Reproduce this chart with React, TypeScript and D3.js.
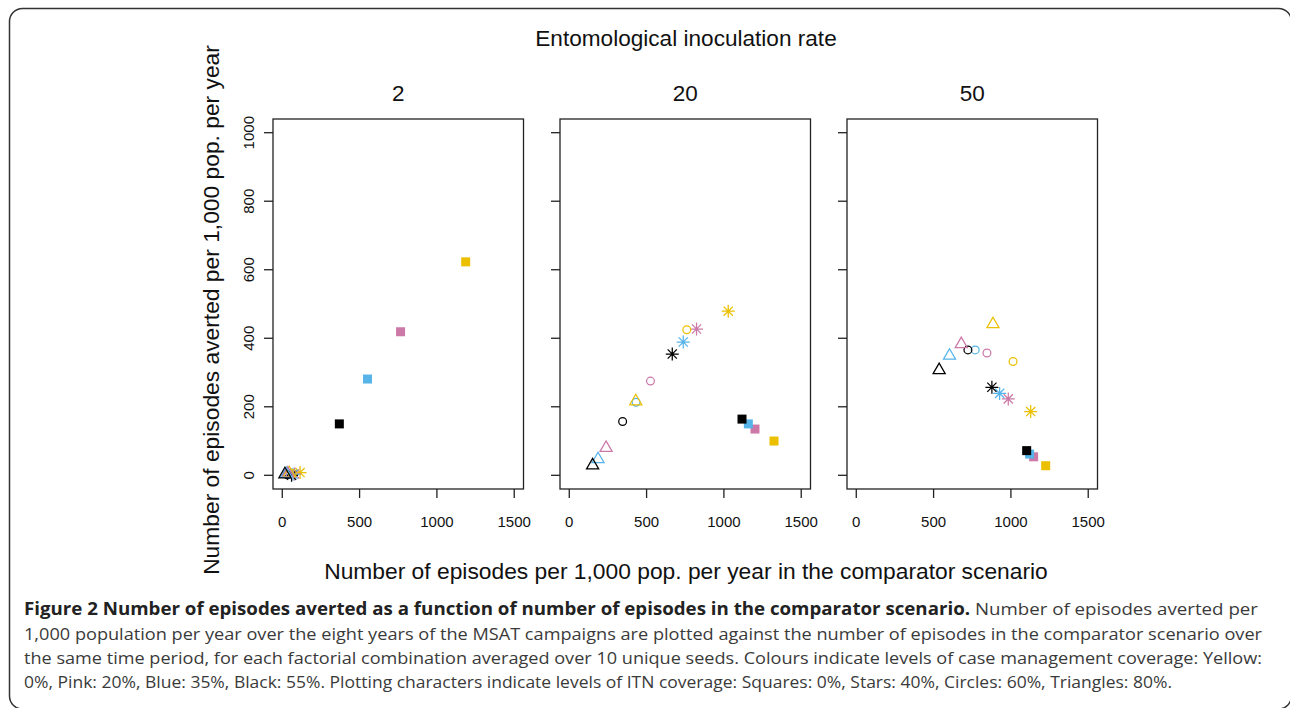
import React from "react";
import * as d3 from "d3";

// ---- data ----
const panelTitles = ["2", "20", "50"];
const colorNames = ["Yellow", "Pink", "Blue", "Black"];
const colorValues = ["#EBC000", "#CC79A7", "#56B4E9", "#000000"];
const shapeNames = ["square", "star", "circle", "triangle"];
const xTicks = [0, 500, 1000, 1500];
const yTicks = [0, 200, 400, 600, 800, 1000];

// order: for each shape (square, star, circle, triangle), colours yellow, pink, blue, black
const eir2X = [1186, 765, 551, 369, 115, 80, 70, 60, 65, 50, 40, 30, 45, 35, 25, 17];
const eir2Y = [623, 419, 281, 150, 8, 4, 3, 0, 5, 4, 3, 2, 6, 5, 4, 3];
const eir20X = [1324, 1201, 1158, 1117, 1028, 823, 737, 666, 760, 525, 432, 345, 430, 238, 186, 151];
const eir20Y = [100, 135, 150, 164, 479, 427, 389, 354, 425, 275, 213, 157, 216, 80, 47, 29];
const eir50X = [1225, 1147, 1121, 1102, 1128, 983, 927, 877, 1014, 845, 769, 722, 884, 679, 603, 536];
const eir50Y = [28, 54, 62, 72, 186, 223, 239, 257, 332, 357, 366, 366, 441, 383, 349, 307];

const panelXs = [eir2X, eir20X, eir50X];
const panelYs = [eir2Y, eir20Y, eir50Y];

const captionBold =
  "Figure 2 Number of episodes averted as a function of number of episodes in the comparator scenario.";
const captionLines = [
  " Number of episodes averted per",
  "1,000 population per year over the eight years of the MSAT campaigns are plotted against the number of episodes in the comparator scenario over",
  "the same time period, for each factorial combination averaged over 10 unique seeds. Colours indicate levels of case management coverage: Yellow:",
  "0%, Pink: 20%, Blue: 35%, Black: 55%. Plotting characters indicate levels of ITN coverage: Squares: 0%, Stars: 40%, Circles: 60%, Triangles: 80%.",
];

// ---- layout ----
const W = 1290;
const H = 708;
const panelLefts = [273, 560, 847];
const panelW = 250.5;
const boxTop = 119;
const boxBottom = 489;
const FONT = "'Liberation Sans', Arial, Helvetica, sans-serif";

function Marker({ shape, cx, cy, color }: { shape: string; cx: number; cy: number; color: string }) {
  const sw = 1.25;
  if (shape === "square") {
    const s = 9;
    return <rect x={cx - s / 2} y={cy - s / 2} width={s} height={s} fill={color} />;
  }
  if (shape === "circle") {
    return <circle cx={cx} cy={cy} r={3.9} fill="none" stroke={color} strokeWidth={sw} />;
  }
  if (shape === "triangle") {
    const xc = 4.5;
    const p = d3.path();
    p.moveTo(cx, cy - 1.555 * xc);
    p.lineTo(cx + 1.347 * xc, cy + 0.778 * xc);
    p.lineTo(cx - 1.347 * xc, cy + 0.778 * xc);
    p.closePath();
    return <path d={p.toString()} fill="none" stroke={color} strokeWidth={sw} strokeLinejoin="miter" />;
  }
  // star (pch 8)
  const a = 4.6;
  const b = 6.5;
  const p = d3.path();
  p.moveTo(cx - a, cy - a);
  p.lineTo(cx + a, cy + a);
  p.moveTo(cx - a, cy + a);
  p.lineTo(cx + a, cy - a);
  p.moveTo(cx - b, cy);
  p.lineTo(cx + b, cy);
  p.moveTo(cx, cy - b);
  p.lineTo(cx, cy + b);
  return <path d={p.toString()} fill="none" stroke={color} strokeWidth={sw} />;
}

function Panel({ idx }: { idx: number }) {
  const left = panelLefts[idx];
  const right = left + panelW;
  const x = d3.scaleLinear().domain([-60, 1560]).range([left, right]);
  const y = d3.scaleLinear().domain([-40, 1040]).range([boxBottom, boxTop]);
  const xs = panelXs[idx];
  const ys = panelYs[idx];
  const pts: { shape: string; color: string; x: number; y: number }[] = [];
  shapeNames.forEach((s, si) => {
    colorNames.forEach((c, ci) => {
      const k = si * colorNames.length + ci;
      pts.push({ shape: s, color: colorValues[ci], x: xs[k], y: ys[k] });
    });
  });
  const axisColor = "#222";
  return (
    <g>
      <text x={(left + right) / 2} y={101} textAnchor="middle" fontSize={22.5} fontFamily={FONT} fill="#111">
        {panelTitles[idx]}
      </text>
      {pts.map((p, i) => (
        <Marker key={i} shape={p.shape} cx={x(p.x)} cy={y(p.y)} color={p.color} />
      ))}
      <rect x={left} y={boxTop} width={panelW} height={boxBottom - boxTop} fill="none" stroke={axisColor} strokeWidth={1.3} />
      {/* x axis */}
      {xTicks.map((t) => (
        <g key={"x" + t}>
          <line x1={x(t)} x2={x(t)} y1={boxBottom} y2={boxBottom + 9} stroke={axisColor} strokeWidth={1.3} />
          <text x={x(t)} y={527} textAnchor="middle" fontSize={15} fontFamily={FONT} fill="#111">
            {t}
          </text>
        </g>
      ))}
      {/* y axis */}
      {yTicks.map((t) => (
        <g key={"y" + t}>
          <line x1={left - 9} x2={left} y1={y(t)} y2={y(t)} stroke={axisColor} strokeWidth={1.3} />
          {idx === 0 && (
            <text
              transform={`translate(${left - 19},${y(t)}) rotate(-90)`}
              textAnchor="middle"
              fontSize={15}
              fontFamily={FONT}
              fill="#111"
            >
              {t}
            </text>
          )}
        </g>
      ))}
    </g>
  );
}

export default function App() {
  const capX = 24;
  const capBase = [615, 639.5, 663.5, 688];
  const capEnds = [1258, 1262, 1262, 1172];
  return (
    <svg
      width={W}
      height={H}
      viewBox={`0 0 ${W} ${H}`}
      style={{ position: "absolute", left: 0, top: 0, background: "#fff" }}
    >
      <rect x={0} y={0} width={W} height={H} fill="#fff" />
      <rect x={9.5} y={8.5} width={1282} height={700.5} rx={13} ry={13} fill="none" stroke="#333" strokeWidth={1.5} />
      <text x={686} y={46} textAnchor="middle" fontSize={22.6} fontFamily={FONT} fill="#111">
        Entomological inoculation rate
      </text>
      {panelTitles.map((_, i) => (
        <Panel key={i} idx={i} />
      ))}
      <text
        transform={`translate(219,310) rotate(-90)`}
        textAnchor="middle"
        fontSize={22.8}
        fontFamily={FONT}
        fill="#111"
      >
        Number of episodes averted per 1,000 pop. per year
      </text>
      <text x={686} y={579} textAnchor="middle" fontSize={22.8} fontFamily={FONT} fill="#111">
        Number of episodes per 1,000 pop. per year in the comparator scenario
      </text>
      {/* caption */}
      <text
        x={capX}
        y={capBase[0]}
        fontSize={17}
        fontFamily="'Open Sans', 'Noto Sans', sans-serif"
        textLength={capEnds[0] - capX}
        lengthAdjust="spacingAndGlyphs"
      >
        <tspan fontWeight="bold" fill="#222">{captionBold}</tspan>
        <tspan fill="#3a3a3a">{captionLines[0]}</tspan>
      </text>
      {captionLines.slice(1).map((line, i) => (
        <text
          key={i}
          x={capX}
          y={capBase[i + 1]}
          fontSize={17}
          fontFamily="'Open Sans', 'Noto Sans', sans-serif"
          fill="#3a3a3a"
          textLength={capEnds[i + 1] - capX}
          lengthAdjust="spacingAndGlyphs"
        >
          {line}
        </text>
      ))}
    </svg>
  );
}
